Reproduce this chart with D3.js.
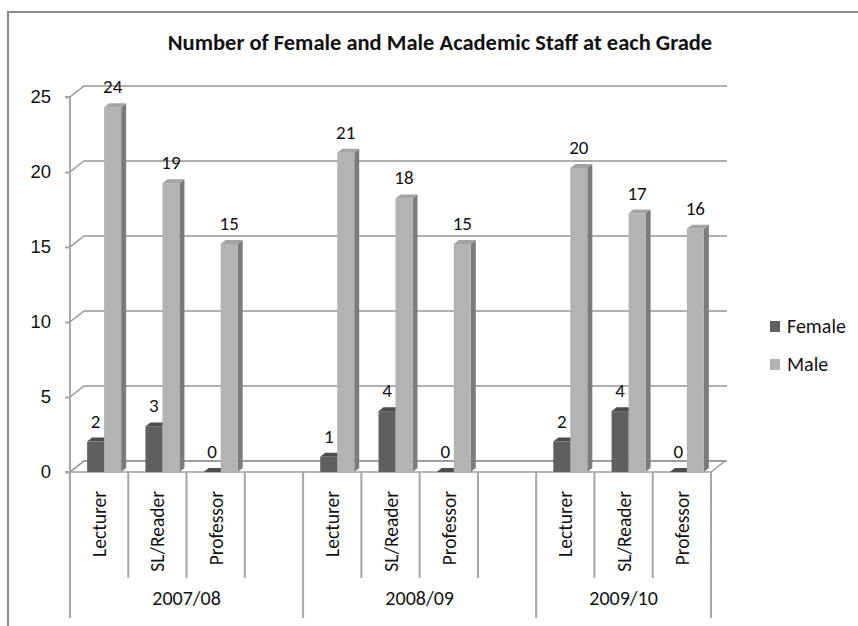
<!DOCTYPE html>
<html>
<head>
<meta charset="utf-8">
<script src="https://cdn.jsdelivr.net/npm/d3@7"></script>
<style>
  html, body { margin: 0; padding: 0; background: #fff; }
  svg { display: block; font-family: Carlito, Calibri, Lato, sans-serif; }
</style>
</head>
<body>
<div id="chart-container"></div>
<script>
// data
let years = ["2007/08", "2008/09", "2009/10"],
    grades = ["Lecturer", "SL/Reader", "Professor"],
    female = [2, 3, 0, 1, 4, 0, 2, 4, 0],
    male = [24, 19, 15, 21, 18, 15, 20, 17, 16],
    yTicks = [0, 5, 10, 15, 20, 25],
    seriesNames = ["Female", "Male"];

let width = 858, height = 626,
    svg = d3.select("#chart-container").append("svg").attr("width", width).attr("height", height),
    depth = { dx: 14, dy: -11 },     // wall depth
    barDepth = { dx: 5, dy: -4 },
    colors = {
        Female: { front: "#5f5f5f", side: "#3f3f3f", top: "#4d4d4d" },
        Male: { front: "#b3b3b3", side: "#7b7b7b", top: "#a3a3a3" }
    };

// slots: 3 grades per year with an empty slot between years
let slots = [];
years.forEach((yr, i) => {
    grades.forEach((g, j) => slots.push({ key: yr + "|" + g, year: yr, grade: g, idx: i * 3 + j }));
    if (i < years.length - 1) slots.push({ key: yr + "|blank", year: yr, grade: null });
});

let x = d3.scaleBand().domain(slots.map(d => d.key)).range([70, 711]).padding(0),
    y = d3.scaleLinear().domain([0, 25]).range([472, 97]),
    yBar = d3.scaleLinear().domain([0, 25]).range([472, 92]);

// outer border (cropped at right / bottom)
svg.append("path")
    .attr("d", `M8,${height}V12H${width}`)
    .attr("fill", "none").attr("stroke", "#8a8a8a").attr("stroke-width", 2);

// title
svg.append("text")
    .attr("x", 440).attr("y", 50)
    .attr("text-anchor", "middle")
    .attr("font-weight", "bold")
    .attr("font-size", 22.5)
    .attr("fill", "#111")
    .text("Number of Female and Male Academic Staff at each Grade");

let x0 = x.range()[0], x1 = x.range()[1];

// floor
svg.append("path")
    .attr("d", `M${x0},${y(0)}L${x1},${y(0)}L${x1 + depth.dx},${y(0) + depth.dy}L${x0 + depth.dx},${y(0) + depth.dy}Z`)
    .attr("fill", "#fff").attr("stroke", "#a0a0a0").attr("stroke-width", 1.5);

// gridlines on side wall and back wall
svg.append("g").selectAll("path")
    .data(yTicks)
    .join("path")
    .attr("d", v => `M${x0},${y(v)}L${x0 + depth.dx},${y(v) + depth.dy}L${x1 + depth.dx + 2},${y(v) + depth.dy}`)
    .attr("fill", "none").attr("stroke", "#979797").attr("stroke-width", 1.5);

// value axis
let yAxis = svg.append("g")
    .attr("transform", `translate(${x0},0)`)
    .call(d3.axisLeft(y).tickValues(yTicks).tickSize(5).tickPadding(14));
yAxis.select(".domain").attr("stroke", "#a6a6a6").attr("stroke-width", 2).attr("d", `M-5,${y(25)}H0V${y(0)}H-5`);
yAxis.selectAll(".tick line").attr("stroke", "#a6a6a6").attr("stroke-width", 2);
yAxis.selectAll(".tick text").attr("font-size", 18.5).attr("fill", "#111").attr("font-family", null);

// bars
let bars = [];
slots.filter(s => s.grade).forEach(s => {
    let c = x(s.key) + x.bandwidth() / 2;
    bars.push({ series: "Female", value: female[s.idx], x: c - 12 });
    bars.push({ series: "Male", value: male[s.idx], x: c + 5 });
});
let bw = 17;

let barG = svg.append("g").selectAll("g")
    .data(bars)
    .join("g");

barG.append("path")
    .attr("d", d => {
        let t = yBar(d.value), b = yBar(0);
        return `M${d.x + bw},${t}L${d.x + bw + barDepth.dx},${t + barDepth.dy}L${d.x + bw + barDepth.dx},${b + barDepth.dy}L${d.x + bw},${b}Z`;
    })
    .attr("fill", d => colors[d.series].side);

barG.append("rect")
    .attr("x", d => d.x).attr("y", d => yBar(d.value))
    .attr("width", bw).attr("height", d => yBar(0) - yBar(d.value))
    .attr("fill", d => colors[d.series].front);

barG.append("path")
    .attr("d", d => {
        let t = yBar(d.value);
        return `M${d.x},${t}L${d.x + barDepth.dx},${t + barDepth.dy}L${d.x + bw + barDepth.dx},${t + barDepth.dy}L${d.x + bw},${t}Z`;
    })
    .attr("fill", d => colors[d.series].top);

barG.append("text")
    .attr("x", d => d.x + bw / 2)
    .attr("y", d => yBar(d.value) - 14)
    .attr("text-anchor", "middle")
    .attr("font-size", 19)
    .attr("fill", "#111")
    .text(d => d.value);

// category axis: separators
let seps = [];
slots.forEach((s, i) => {
    let isGroupStart = i === 0 || slots[i - 1].year !== s.year;
    seps.push({ x: x(s.key), long: isGroupStart });
});
seps.push({ x: x1, long: true });

svg.append("g").selectAll("line")
    .data(seps)
    .join("line")
    .attr("x1", d => d.x).attr("x2", d => d.x)
    .attr("y1", y(0)).attr("y2", d => d.long ? 618 : 578)
    .attr("stroke", "#a6a6a6").attr("stroke-width", 2);

// grade labels
svg.append("g").selectAll("text")
    .data(slots.filter(s => s.grade))
    .join("text")
    .attr("transform", d => `translate(${x(d.key) + x.bandwidth() / 2 + 7},491)rotate(-90)`)
    .attr("text-anchor", "end")
    .attr("font-size", 19.5)
    .attr("fill", "#111")
    .text(d => d.grade);

// year labels
svg.append("g").selectAll("text")
    .data(years)
    .join("text")
    .attr("x", yr => {
        let ks = slots.filter(s => s.year === yr && s.grade);
        let a = x(ks[0].key), b = yr === years[years.length - 1] ? x1 : x(slots.filter(s => s.year === yr).pop().key) + x.bandwidth();
        return (a + b) / 2;
    })
    .attr("y", 605)
    .attr("text-anchor", "middle")
    .attr("font-size", 20)
    .attr("fill", "#111")
    .text(yr => yr);

// legend
let legend = svg.append("g").selectAll("g")
    .data(seriesNames)
    .join("g")
    .attr("transform", (d, i) => `translate(770,${321 + i * 38})`);
legend.append("rect").attr("width", 10).attr("height", 11).attr("fill", d => colors[d].front);
legend.append("text").attr("x", 17).attr("y", 12).attr("font-size", 20).attr("fill", "#111").text(d => d);
</script>
</body>
</html>
